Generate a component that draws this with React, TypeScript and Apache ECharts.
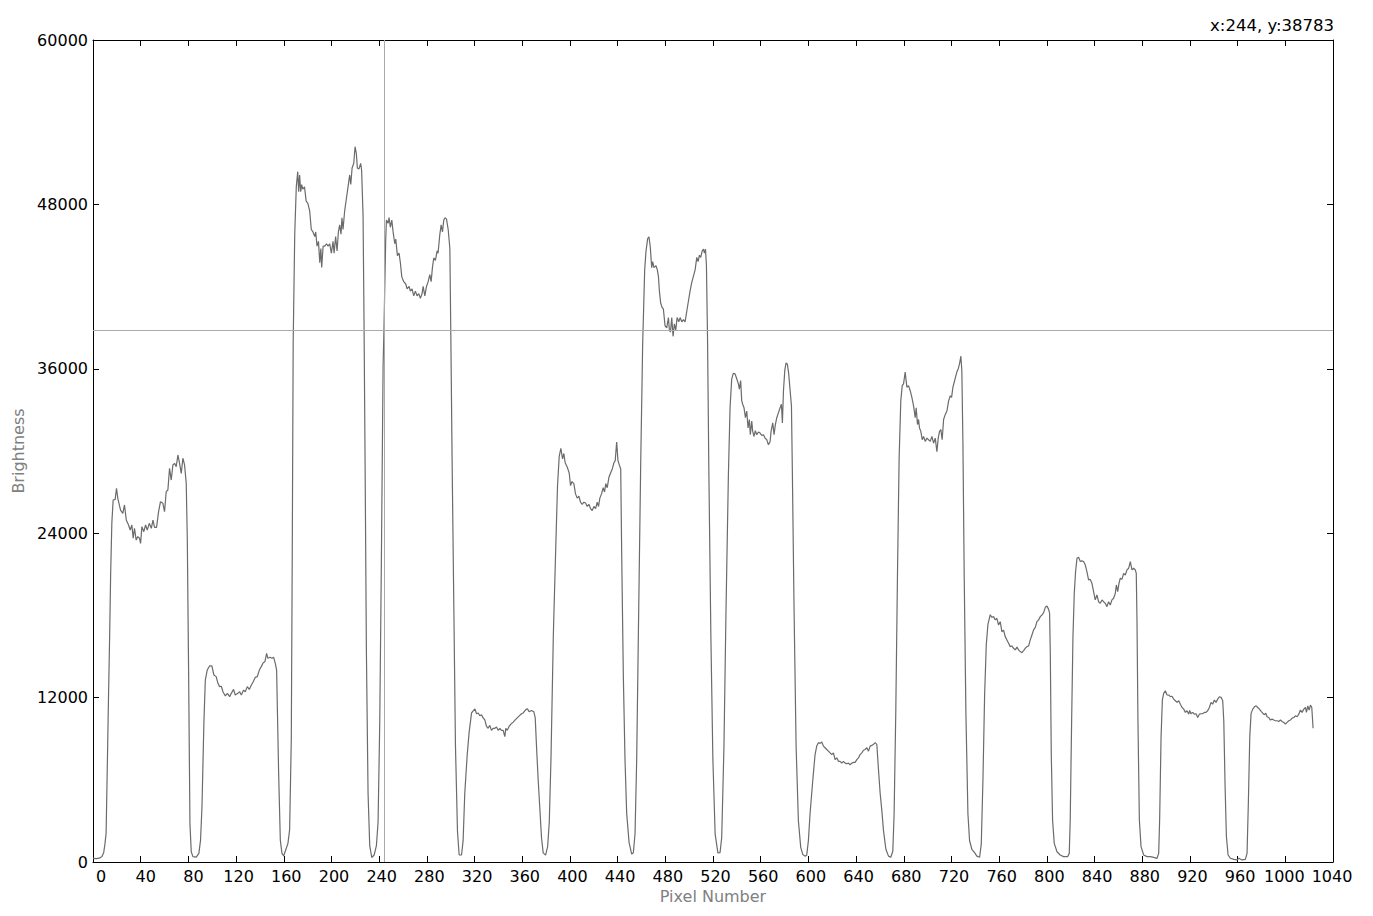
import React, { useEffect, useRef } from "react";
import * as echarts from "echarts";

// Brightness profile, as [pixel, brightness] pairs, one array per region
const band0to166: number[][] = [
  [0, 270], [3, 250], [6, 300], [7.5, 400], [9, 700], [10, 1300], [11, 2090], [12, 7000], [13, 12000], [13.9, 16200],
  [14.8, 21000], [15.8, 24740], [16.9, 26420], [18.6, 26470], [19.7, 27280], [20.8, 26550], [23.1, 25690], [25, 25450],
  [26.4, 26060], [27.9, 24960], [29.8, 24600], [31.2, 24230], [32.6, 24600], [33.7, 23630], [34.8, 24360], [36.2, 23500],
  [37.6, 23750], [39, 23630], [39.9, 23260], [41, 24480], [42.6, 24110], [44.1, 24600], [45.5, 24230], [47.2, 24720],
  [48.9, 24360], [50.3, 24960], [51.6, 24420], [53.3, 24420], [55, 25570], [56.6, 26300], [58.6, 26180], [60, 25570],
  [61.4, 27030], [62.8, 27150], [64.2, 28740], [65.6, 27880], [67, 28980], [68.4, 29100], [69.8, 28860], [71.2, 29710],
  [72.6, 29100], [74, 28370], [75.4, 29470], [76.8, 28980], [78.2, 27640], [79.1, 23500], [80.2, 13770], [81.3, 2820],
  [82.4, 750], [83.8, 390], [86.6, 350], [88.8, 630], [90.2, 1600], [91.4, 4040], [93, 10120], [94.2, 13280],
  [95.8, 14010], [97.8, 14310], [99.7, 14310], [101.4, 13650], [103.3, 13530], [104.8, 13040], [106.2, 12800],
  [107.6, 12830], [109, 12430], [111, 12120], [112.7, 12310], [114.6, 12070], [116, 12310], [117.9, 12600],
  [119.3, 12190], [121.5, 12310], [123, 12430], [124.4, 12190], [126.3, 12550], [127.7, 12430], [129.4, 12800],
  [131.1, 12600], [132.8, 12920], [134.4, 13160], [136.1, 13480], [137.8, 13530], [139.5, 14010], [141.1, 14260],
  [142.8, 14550], [144.2, 14620], [145.6, 15230], [146.7, 14870], [148.4, 14940], [150.1, 14870], [151.5, 14940],
  [152.9, 14500], [154, 14010], [154.6, 11340], [155.7, 6470], [157.1, 1600], [158.5, 630], [159.9, 440], [161.6, 880],
  [163.5, 1360], [164.9, 2340], [166.3, 8900],
];

const band167to310: number[][] = [
  [167.1, 22300], [167.9, 38000], [169.2, 45820], [170.5, 49280], [171.7, 50390], [172.5, 48930], [173.3, 50150],
  [174.2, 48930], [175, 49450], [175.9, 49110], [177.4, 49280], [178.8, 48240], [180.2, 48070], [181.7, 47550],
  [183.1, 46170], [184.5, 45990], [186, 45650], [186.8, 45990], [187.9, 44950], [189.1, 45300], [190.2, 43740],
  [191.1, 44780], [191.8, 43400], [193, 44950], [194.4, 44950], [195.8, 45130], [197.2, 44950], [198.5, 45130],
  [199.9, 44440], [201.3, 45300], [202.2, 44440], [203.5, 45650], [204.7, 44600], [205.8, 45990], [206.9, 46510],
  [208, 45820], [208.8, 47030], [209.7, 46170], [211.1, 47550], [212.5, 48410], [213.9, 49280], [215.3, 50150],
  [216.2, 49450], [217.3, 50660], [218.7, 51000], [219.8, 52210], [220.9, 51690], [221.7, 50660], [223.1, 50590],
  [224.5, 51000], [225.3, 50490], [226.5, 47200], [227.3, 39590], [228.2, 29210], [229.3, 15380], [230.7, 5000],
  [232.1, 1200], [233.8, 330], [235.8, 510], [237.7, 1200], [239.1, 2920], [240.5, 10190], [241.9, 22300],
  [243.3, 36130], [244, 38783], [245.5, 45430], [246.1, 46860], [247.5, 46620], [248.3, 47030], [249.4, 46330],
  [250.6, 46860], [251.7, 45990], [253.1, 45130], [253.9, 45470], [255.3, 44260], [256.7, 44440], [257.8, 43740],
  [259, 42710], [260.6, 42360], [262.3, 42190], [263.4, 41840], [265.1, 42010], [266.2, 41670], [267.6, 41840],
  [269, 41320], [270.4, 41670], [271.8, 41320], [273.2, 41490], [274.6, 41150], [276, 41490], [276.9, 42010],
  [278.3, 41320], [279.7, 42010], [281.1, 42360], [282.5, 42880], [283.6, 42360], [284.7, 43400], [285.8, 44090],
  [287.2, 43920], [288.6, 44600], [289.4, 44440], [290.9, 45820], [292, 46510], [293.1, 45990], [294.2, 46860],
  [295.3, 47030], [296.5, 46930], [297.9, 46170], [299.3, 44780], [300.1, 38550], [301.2, 29210], [302.6, 18830],
  [304, 8470], [305.7, 2230], [307.1, 510], [309.1, 510], [310.4, 1540],
];

const band311to455: number[][] = [
  [311.8, 5000], [313.8, 7770], [315.5, 9500], [317.5, 10880], [318.5, 11000], [320.3, 11180], [321.7, 10820],
  [323.1, 10880], [324.4, 10670], [325.8, 10750], [327.2, 10520], [328.6, 10370], [330, 9910], [331.4, 9760],
  [332.8, 9970], [334.2, 9610], [335.6, 9760], [337, 9760], [338.4, 9850], [339.8, 9610], [341.2, 9760],
  [342.6, 9610], [344, 9610], [345.4, 9150], [346.2, 9760], [347.4, 9610], [349.1, 9910], [350.5, 10060],
  [352.4, 10210], [354.1, 10370], [355.8, 10520], [357.5, 10670], [359.4, 10820], [360.8, 10880], [363, 11120],
  [364.4, 11180], [365.8, 10970], [367.8, 11060], [369.7, 10970], [370.9, 10520], [372, 8390], [373.4, 5970],
  [374.8, 3850], [376.2, 1730], [377.6, 670], [379.6, 500], [381.3, 1120], [382.7, 2940], [384.1, 7490],
  [386.1, 16580], [388.2, 23230], [389.6, 27470], [391, 29600], [392.4, 30200], [393.8, 29420], [394.9, 29820],
  [396, 29140], [397.7, 28840], [399.4, 28390], [400.5, 27470], [401.7, 27770], [403.3, 27620], [404.7, 26870],
  [406.1, 26560], [407.5, 26710], [408.9, 26260], [410.3, 26110], [411.7, 26260], [413.1, 26200], [414.5, 25950],
  [415.9, 26110], [417.3, 25800], [418.7, 25650], [420.1, 25950], [421.5, 25800], [422.9, 26260], [424, 25950],
  [425.1, 26560], [426.5, 26870], [427.9, 27320], [429, 27010], [430.1, 27620], [431.3, 27320], [432.7, 28080],
  [434.1, 28390], [435.5, 28690], [436.9, 29140], [438, 29300], [439.2, 30660], [440.3, 29300], [441.4, 28990],
  [442.6, 28690], [443.4, 22630], [444.8, 13550], [446.2, 7490], [447.6, 3550], [449.6, 1430], [451.8, 580],
  [453.2, 670], [454.6, 2040],
];

const band456to600: number[][] = [
  [456, 7490], [457.4, 16580], [459.3, 28690], [461, 37770], [462.7, 43220], [463.8, 44590], [465.2, 45500],
  [466.3, 45640], [467.4, 44890], [468.6, 43380], [469.4, 43830], [470.5, 43380], [472.2, 43530], [473.3, 43220],
  [474.2, 42770], [475, 41710], [476.1, 40800], [477.2, 40500], [478.4, 40350], [479.8, 39130], [481.2, 38980],
  [482.6, 39740], [483.4, 38830], [484.3, 38680], [485.4, 39740], [486.5, 38370], [487.6, 39280], [488.8, 38830],
  [489.9, 39740], [491.3, 39430], [492.4, 39740], [493.8, 39430], [495.2, 39590], [496.6, 39430], [498, 40200],
  [499.4, 40950], [500.8, 41710], [502.2, 42310], [503.6, 42770], [505, 43220], [506.4, 44130], [507.5, 43830],
  [508.6, 44290], [509.7, 44130], [510.9, 44590], [512, 44740], [512.8, 44440], [513.7, 44740], [514.5, 43530],
  [515.4, 38370], [516.5, 28690], [518.2, 16580], [519.9, 7490], [521.8, 2040], [524.1, 670], [525.9, 680],
  [527.3, 1790], [529.2, 8460], [530.9, 18340], [532.9, 28220], [534.3, 33160], [535.7, 35270], [537.1, 35680],
  [538.5, 35630], [539.9, 35270], [541.3, 34900], [542.1, 34520], [543.2, 35140], [544.1, 33660], [544.9, 33410],
  [546, 33160], [547.2, 32430], [548.3, 32920], [549.4, 31680], [550.5, 32300], [551.3, 31190], [552.5, 32180],
  [553.3, 31430], [554.4, 31060], [555.5, 31480], [556.7, 31190], [558.1, 31390], [559.5, 31310], [560.9, 31140],
  [562.3, 31190], [563.7, 30940], [565.1, 30820], [566.5, 30450], [567.9, 30700], [568.7, 31430], [570.1, 32050],
  [571.2, 31190], [572.3, 31930], [573.5, 32430], [574.9, 32800], [576.3, 33160], [577.4, 33410], [578.2, 32050],
  [579.1, 34400], [580.2, 35880], [581.3, 36430], [582.4, 36330], [583.5, 35630], [584.7, 34400], [585.8, 33290],
  [586.6, 28220], [588, 18340], [589.7, 8460], [591.6, 3030], [593.6, 1050], [595.3, 555], [597.2, 430],
  [598.6, 500], [600, 1550],
];

const band601to745: number[][] = [
  [601.4, 3520], [603.7, 5990], [605.6, 7840], [607, 8460], [608.4, 8710], [609.8, 8660], [611.2, 8760],
  [612.6, 8460], [614, 8340], [615.4, 8210], [616.8, 8090], [618.2, 7970], [619.6, 7840], [621, 7970],
  [622.4, 7470], [623.8, 7600], [625.2, 7350], [626.6, 7350], [628, 7220], [629.4, 7350], [630.8, 7220],
  [632.2, 7170], [633.6, 7220], [635, 7100], [636.4, 7220], [637.8, 7270], [639.2, 7270], [640.6, 7470],
  [642, 7600], [643.4, 7840], [644.8, 7970], [646.2, 8160], [647.6, 8210], [649, 8340], [650.4, 8090],
  [651.8, 8460], [653.2, 8510], [654.6, 8590], [656, 8710], [657.4, 8590], [658.8, 6730], [660.2, 5000],
  [661.6, 3770], [663, 2290], [665, 930], [667.2, 430], [669.1, 350], [670.8, 780], [671.9, 3520], [673.3, 10930],
  [674.7, 20810], [676.1, 29460], [677.5, 33660], [678.7, 34770], [679.8, 34900], [681.2, 35760], [682.6, 34650],
  [684, 34770], [685.4, 34400], [686.8, 33910], [688.2, 33290], [689.6, 32430], [690.4, 33160], [691.5, 31930],
  [692.4, 32300], [693.2, 31680], [694.3, 31430], [695.5, 30820], [696.6, 31060], [698, 30700], [699.4, 30940],
  [700.8, 30820], [702.2, 30700], [703.6, 31060], [705, 30570], [706.4, 30940], [707.8, 29950], [708.9, 30940],
  [710, 31430], [711.1, 31560], [712.2, 30820], [713.4, 32300], [714.8, 32670], [716.2, 32920], [717.6, 33660],
  [719, 34030], [720.1, 33910], [721.2, 34650], [722.3, 35020], [723.4, 35390], [724.5, 35760], [725.7, 36010],
  [726.8, 36380], [727.9, 36920], [728.7, 35880], [729.6, 30700], [730.7, 20810], [732.1, 10930], [733.8, 3520],
  [735.2, 1550], [737.1, 930], [739.4, 680], [741.3, 430], [743.6, 350], [745, 1300],
];

const band746to895: number[][] = [
  [746.4, 5990], [747.8, 12170], [749.2, 15870], [750.6, 17350], [752.5, 18050], [753.9, 17860], [755.3, 17910],
  [756.7, 17670], [758.1, 17790], [759.5, 17300], [760.9, 17540], [762.3, 16810], [763.7, 16930], [765.1, 16450],
  [766.5, 16210], [767.9, 15970], [769.3, 15720], [770.7, 15770], [772.1, 15600], [773.5, 15480], [774.9, 15680],
  [776.3, 15480], [777.7, 15360], [779.1, 15280], [780.5, 15430], [781.9, 15600], [783.3, 15720], [784.7, 15770],
  [786.1, 16210], [787.5, 16570], [788.9, 16940], [790.3, 17130], [791.7, 17540], [793.1, 17670], [794.5, 17910],
  [795.9, 18030], [797.3, 18200], [798.7, 18590], [800.1, 18690], [801.5, 18440], [802.3, 18150], [802.9, 15230],
  [803.7, 7930], [804.8, 3070], [806.2, 1360], [808.5, 750], [811.2, 510], [814, 390], [817.4, 390], [818.8, 630],
  [819.6, 3070], [820.8, 10370], [821.9, 16450], [823, 19610], [824.1, 21200], [825.3, 22170], [826.6, 22240],
  [828.1, 21930], [829.4, 21980], [830.8, 21930], [832.2, 21690], [833.6, 21200], [835, 20590], [836.4, 20630],
  [837.8, 20340], [839.2, 19730], [840.6, 19130], [842, 19490], [843.4, 19000], [844.8, 18880], [846.2, 19130],
  [847.6, 19000], [849, 18880], [850.4, 18640], [851.8, 19000], [853.2, 18760], [854.6, 19130], [856, 19250],
  [857.4, 19610], [858.3, 20220], [859.4, 19730], [860.5, 20340], [861.6, 20710], [863, 20630], [864.4, 21070],
  [865.8, 20950], [867.2, 21320], [868.6, 21440], [870, 21930], [871.4, 21320], [872.8, 21440], [874.2, 21320],
  [875, 21070], [875.6, 17670], [876.4, 10370], [877.6, 3070], [879, 1120], [881.2, 510], [884, 390],
  [886.8, 390], [889.6, 340], [892.4, 270], [893.8, 630], [894.6, 3070],
];

const band896to1023: number[][] = [
  [895.8, 9150], [896.9, 11830], [898, 12310], [899.4, 12500], [900.8, 12190], [902.2, 12190], [903.6, 12070],
  [905, 12100], [906.4, 11890], [907.8, 11770], [909.2, 11650], [910.6, 11770], [912, 11520], [913.4, 11280],
  [914.8, 11160], [916.2, 10920], [917.6, 11040], [919, 10790], [919.8, 11060], [920.9, 10820], [922.3, 10920],
  [923.7, 10790], [925.1, 10820], [926.5, 10550], [927.9, 10790], [929.3, 10820], [930.7, 10820], [932.1, 10920],
  [933.5, 10920], [934.9, 11040], [936.3, 11280], [937.7, 11650], [939.1, 11520], [940.5, 11820], [941.9, 11650],
  [943.3, 11890], [944.7, 12060], [946.1, 12020], [947.5, 11770], [948.4, 10310], [949.5, 5500], [950.6, 1860],
  [952, 510], [954, 270], [956.8, 190], [959.6, 150], [961, 270], [963.7, 150], [966.5, 190], [967.9, 630],
  [969, 4280], [970.2, 9150], [971.3, 10850], [972.7, 11160], [974.1, 11330], [975.5, 11400], [976.9, 11280],
  [978.3, 11160], [979.7, 11000], [981.1, 10860], [982.5, 10750], [983.6, 10860], [984.7, 10600], [986.1, 10550],
  [987.5, 10360], [988.9, 10430], [990.3, 10360], [991.7, 10310], [993.1, 10310], [994.5, 10260], [995.9, 10360],
  [997.3, 10260], [998.7, 10190], [1000.1, 10070], [1001.5, 10190], [1002.9, 10310], [1004.3, 10360],
  [1005.7, 10500], [1007.1, 10550], [1008.5, 10670], [1009.9, 10600], [1011.3, 10790], [1012.7, 11090],
  [1014.1, 10920], [1015.5, 11160], [1016.9, 11280], [1017.7, 10920], [1018.9, 11400], [1020, 11090],
  [1021.1, 11450], [1022.2, 11280], [1023.3, 9760],
];

// Cursor readout
const cursorX = 244;
const cursorY = 38783;

// Axis ranges
const xMin = 0;
const xMax = 1040;
const xStep = 40;
const yMin = 0;
const yMax = 60000;
const yStep = 12000;

const FONT = "DejaVu Sans";
const LABEL_SIZE = 16;

// horizontal nudge (px) of x tick labels relative to their ticks, as in the reference
function labelShift(v: number): number {
  if (v === 0) return 8;
  if (v === 40 || v === 80) return 5;
  if (v >= 1000) return -1;
  return 2.5;
}

export default function App() {
  const ref = useRef<HTMLDivElement>(null);

  useEffect(() => {
    if (!ref.current) return;
    const chart = echarts.init(ref.current, null, { renderer: "svg" });
    const profile = [
      ...band0to166,
      ...band167to310,
      ...band311to455,
      ...band456to600,
      ...band601to745,
      ...band746to895,
      ...band896to1023,
    ];
    const base = { fontSize: LABEL_SIZE, fontFamily: FONT, color: "#000" };
    const rich = {
      p8: { ...base, padding: [0, 0, 0, 16] },
      p5: { ...base, padding: [0, 0, 0, 10] },
      p25: { ...base, padding: [0, 0, 0, 5] },
      m1: { ...base, padding: [0, 2, 0, 0] },
    };
    const styleFor = (v: number) => {
      const s = labelShift(v);
      if (s === 8) return "p8";
      if (s === 5) return "p5";
      if (s < 0) return "m1";
      return "p25";
    };
    const tickStyle = { show: true, inside: true, length: 6, lineStyle: { color: "#000", width: 1 } };
    const lineAxis = { show: true, onZero: false, lineStyle: { color: "#000", width: 1 } };
    chart.setOption({
      animation: false,
      backgroundColor: "#fff",
      textStyle: { fontFamily: FONT },
      title: {
        text: `x:${cursorX}, y:${cursorY}`,
        right: 39,
        top: 17,
        padding: 0,
        textStyle: { fontFamily: FONT, fontSize: 16.5, fontWeight: "normal", color: "#000" },
      },
      grid: { left: 93, right: 40, top: 40, bottom: 54, containLabel: false },
      xAxis: [
        {
          type: "value",
          position: "bottom",
          min: xMin,
          max: xMax,
          interval: xStep,
          axisLine: lineAxis,
          axisTick: tickStyle,
          splitLine: { show: false },
          axisLabel: {
            color: "#000",
            fontSize: LABEL_SIZE,
            fontFamily: FONT,
            margin: 6,
            rich,
            formatter: (v: number) => `{${styleFor(v)}|${v}}`,
          },
          name: "Pixel Number",
          nameLocation: "middle",
          nameGap: 25,
          nameTextStyle: { color: "#808080", fontSize: 16, fontFamily: FONT },
        },
        {
          type: "value",
          position: "top",
          min: xMin,
          max: xMax,
          interval: xStep,
          axisLine: lineAxis,
          axisTick: tickStyle,
          splitLine: { show: false },
          axisLabel: { show: false },
        },
      ],
      yAxis: [
        {
          type: "value",
          position: "left",
          min: yMin,
          max: yMax,
          interval: yStep,
          axisLine: lineAxis,
          axisTick: tickStyle,
          splitLine: { show: false },
          axisLabel: {
            color: "#000",
            fontSize: LABEL_SIZE,
            fontFamily: FONT,
            margin: 5,
            formatter: (v: number) => String(v),
          },
          name: "Brightness",
          nameLocation: "middle",
          nameGap: 66,
          nameTextStyle: { color: "#808080", fontSize: 16, fontFamily: FONT },
        },
        {
          type: "value",
          position: "right",
          min: yMin,
          max: yMax,
          interval: yStep,
          axisLine: lineAxis,
          axisTick: tickStyle,
          splitLine: { show: false },
          axisLabel: { show: false },
        },
      ],
      series: [
        {
          type: "line",
          xAxisIndex: 0,
          yAxisIndex: 0,
          data: profile,
          showSymbol: false,
          symbol: "none",
          lineStyle: { color: "#6b6b6b", width: 1.2 },
          silent: true,
          markLine: {
            silent: true,
            symbol: ["none", "none"],
            label: { show: false },
            lineStyle: { color: "#ababab", width: 1, type: "solid" },
            data: [{ xAxis: cursorX }, { yAxis: cursorY }],
          },
        },
      ],
    });
    return () => chart.dispose();
  }, []);

  return (
    <div
      ref={ref}
      style={{ position: "fixed", left: 0, top: 0, width: 1373, height: 916, background: "#fff" }}
    />
  );
}
